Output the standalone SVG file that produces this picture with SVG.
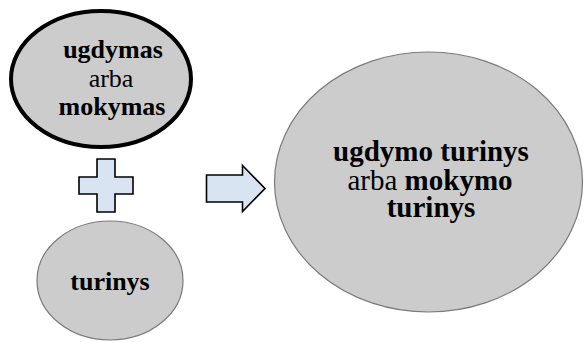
<svg xmlns="http://www.w3.org/2000/svg" width="584" height="342" viewBox="0 0 584 342">
  <style>
    .node { fill: #cccccc; stroke: #7a7a7a; stroke-width: 1.2; }
    .thick { fill: #cccccc; stroke: #000000; stroke-width: 4; }
    .sym { fill: #d9e4f3; stroke: #000000; stroke-width: 1.6; stroke-linejoin: miter; }
    .t { font-family: 'Liberation Serif', 'Times New Roman', Tinos, 'DejaVu Serif', serif; fill: #000000; text-anchor: middle; }
    .b { font-weight: bold; }
  </style>
  <rect width="584" height="342" fill="#ffffff"/>
  <g id="node-ugdymas">
    <ellipse class="thick" cx="101" cy="79" rx="90" ry="68"/>
    <text class="t b" x="113" y="58" font-size="26">ugdymas</text>
    <text class="t" x="111" y="87" font-size="26">arba</text>
    <text class="t b" x="112" y="115" font-size="26">mokymas</text>
  </g>
  <g id="node-turinys">
    <ellipse class="node" cx="110" cy="280.5" rx="73" ry="59.5"/>
    <text class="t b" x="110" y="290" font-size="26">turinys</text>
  </g>
  <g id="node-result">
    <ellipse class="node" cx="428.5" cy="182" rx="154" ry="130"/>
    <text class="t b" x="431" y="161" font-size="29">ugdymo turinys</text>
    <text class="t" x="430" y="190" font-size="29">arba <tspan class="b">mokymo</tspan></text>
    <text class="t b" x="431" y="217" font-size="29">turinys</text>
  </g>
  <g id="connectors">
    <path id="plus" class="sym" d="M97,159 H115 V177 H133 V194 H115 V212 H97 V194 H79 V177 H97 Z"/>
    <path id="arrow" class="sym" d="M206.5,175 H242.5 V165.5 L265,188.5 L242.5,211.5 V202 H206.5 Z"/>
  </g>
</svg>
